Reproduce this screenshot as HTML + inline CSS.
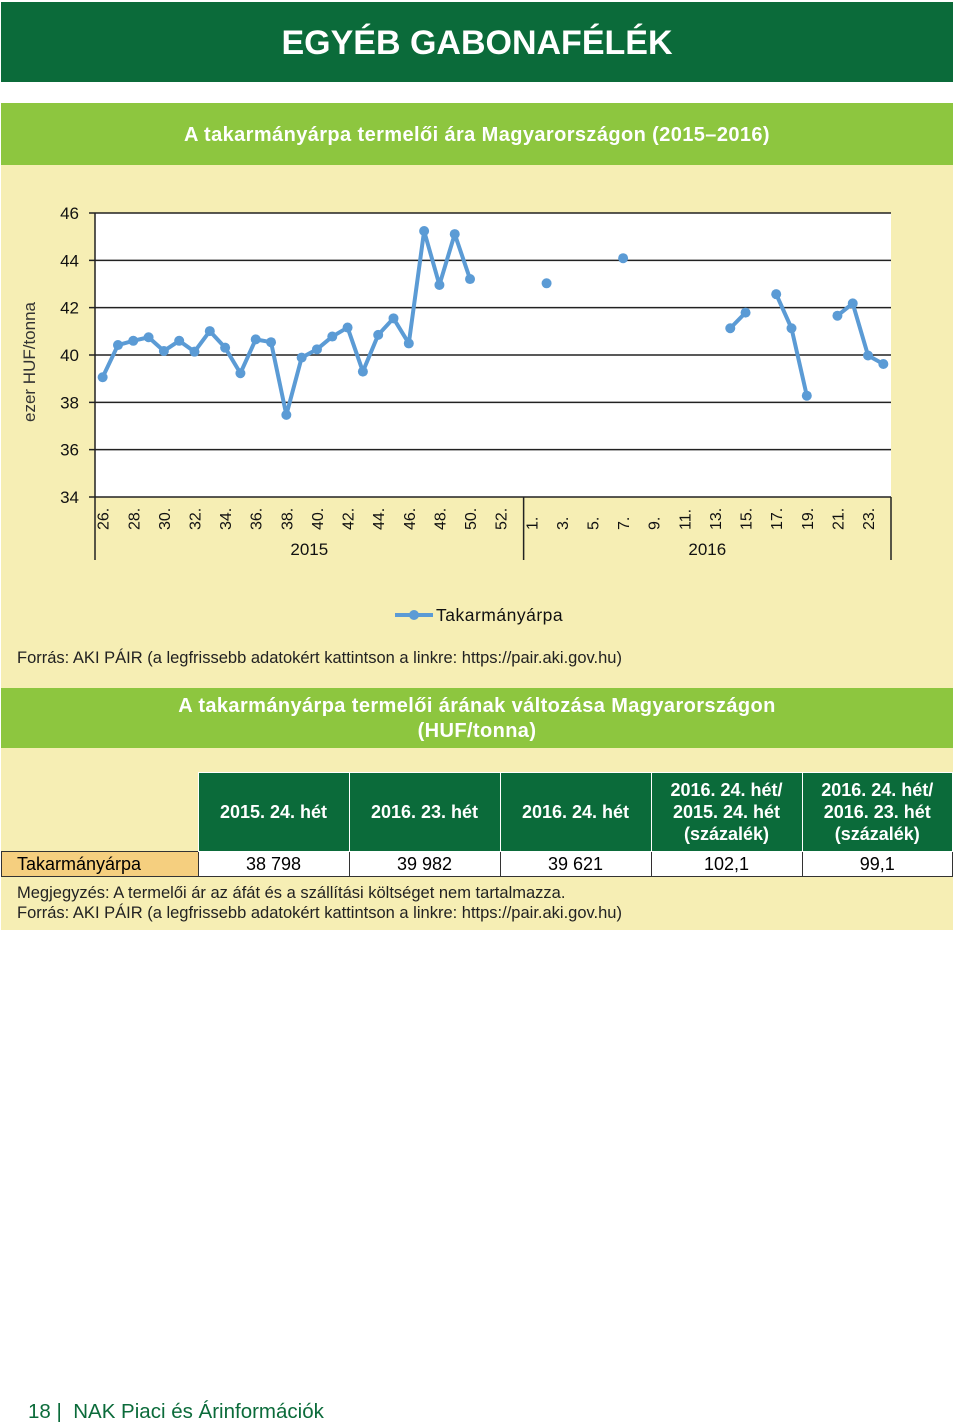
<!DOCTYPE html>
<html><head><meta charset="utf-8">
<style>
body{margin:0;width:960px;height:1426px;background:#fff;font-family:"Liberation Sans",sans-serif;position:relative;overflow:hidden}
.abs{position:absolute}
.hdr{left:1px;top:2px;width:952px;height:80px;background:#0b6b3a;color:#fff;font-size:34px;font-weight:bold;text-align:center;line-height:82px}
.gbar{left:1px;width:952px;background:#8dc63f;color:#fff;font-weight:bold;font-size:20px;letter-spacing:0.4px;text-align:center}
.cream{left:1px;width:952px;background:#f6eeb4}
table{border-collapse:collapse;position:absolute;left:1px;top:772px;width:952px;font-size:18px}
th{background:#0b6b3a;color:#fff;font-weight:bold;border:1px solid #fff;height:78px;padding:0;line-height:22px}
td{border:1px solid #333;background:#fff;text-align:center;height:24px;padding:0}
</style></head><body>
<div class="abs hdr">EGYÉB GABONAFÉLÉK</div>
<div class="abs cream" style="top:165px;height:765px"></div>
<div class="abs gbar" style="top:103px;height:62px;line-height:64px">A takarmányárpa termelői ára Magyarországon (2015–2016)</div>
<svg class="abs" style="left:0;top:165px" width="960" height="480">
<g id="g" transform="translate(0,-165)"></g>
</svg>
<div class="abs" style="left:17px;top:649px;font-size:16.5px;color:#222">Forrás: AKI PÁIR (a legfrissebb adatokért kattintson a linkre: https://pair.aki.gov.hu)</div>
<div class="abs gbar" style="top:688px;height:60px;line-height:25px;padding-top:6px;box-sizing:border-box">A takarmányárpa termelői árának változása Magyarországon<br>(HUF/tonna)</div>
<table>
<tr><th style="background:transparent;border:none;width:196px"></th><th style="width:150px">2015. 24. hét</th><th style="width:150px">2016. 23. hét</th><th style="width:150px">2016. 24. hét</th><th style="width:150px">2016. 24. hét/<br>2015. 24. hét<br>(százalék)</th><th>2016. 24. hét/<br>2016. 23. hét<br>(százalék)</th></tr>
<tr><td style="background:#f5cf7f;text-align:left;padding-left:15px">Takarmányárpa</td><td>38 798</td><td>39 982</td><td>39 621</td><td>102,1</td><td>99,1</td></tr>
</table>
<div class="abs" style="left:17px;top:883px;font-size:16.5px;line-height:20px;color:#222">Megjegyzés: A termelői ár az áfát és a szállítási költséget nem tartalmazza.<br>Forrás: AKI PÁIR (a legfrissebb adatokért kattintson a linkre: https://pair.aki.gov.hu)</div>
<div class="abs" style="left:28px;top:1400px;font-size:20.5px;color:#0b6b3a">18 | &nbsp;NAK Piaci és Árinformációk</div>
<script>
const weeks2015=[26,27,28,29,30,31,32,33,34,35,36,37,38,39,40,41,42,43,44,45,46,47,48,49,50,51,52,53];
const weeks2016=[1,2,3,4,5,6,7,8,9,10,11,12,13,14,15,16,17,18,19,20,21,22,23,24];
const values2015=[39.06,40.42,40.6,40.75,40.17,40.6,40.14,41.01,40.31,39.23,40.66,40.54,37.47,39.89,40.24,40.78,41.16,39.3,40.85,41.55,40.49,45.24,42.96,45.11,43.21,null,null,null];
const values2016=[null,43.03,null,null,null,null,44.09,null,null,null,null,null,null,41.13,41.79,null,42.57,41.13,38.28,null,41.66,42.18,39.98,39.62];
const yTicks=[34,36,38,40,42,44,46];
const NS="http://www.w3.org/2000/svg";
const g=document.getElementById('g');
const L=95,R=891,T=213,B=497,yMin=34,yMax=46;
const cats=weeks2015.length+weeks2016.length,cw=(R-L)/cats;
const x=i=>L+cw*(i+0.5);
const y=v=>B-(v-yMin)/(yMax-yMin)*(B-T);
function el(t,a,p){const e=document.createElementNS(NS,t);for(const k in a)e.setAttribute(k,a[k]);(p||g).appendChild(e);return e;}
const plot=el('rect',{x:L,y:T,width:R-L,height:B-T,fill:'#fff'});


yTicks.forEach(v=>{
 const ln=el('line',{x1:L-6,x2:R,y1:y(v),y2:y(v),stroke:'#222','stroke-width':1.5});
 
 
 const t=el('text',{x:79,y:y(v)+6,'text-anchor':'end','font-size':17,fill:'#111'});
 t.textContent=v;
 
 
});
el('line',{x1:L,x2:L,y1:T,y2:560,stroke:'#222','stroke-width':1.5});
el('line',{x1:x(weeks2015.length)-cw/2,x2:x(weeks2015.length)-cw/2,y1:B,y2:560,stroke:'#222','stroke-width':1.5});
el('line',{x1:R,x2:R,y1:B,y2:560,stroke:'#222','stroke-width':1.5});
const labels=weeks2015.concat(weeks2016);
labels.forEach((w,i)=>{
 if(i%2)return;
 const t=el('text',{transform:`translate(${x(i)+6},530) rotate(-90)`,'font-size':16,fill:'#111'});
 t.textContent=w+'.';
 
 
});
[['2015',(L+x(weeks2015.length)-cw/2)/2],['2016',(x(weeks2015.length)-cw/2+R)/2]].forEach(([s,cx])=>{
 const t=el('text',{x:cx,y:555,'text-anchor':'middle','font-size':17,fill:'#111'});
 t.textContent=s;
 
 
});
const yt=el('text',{transform:'translate(35,362) rotate(-90)','text-anchor':'middle','font-size':17,fill:'#333'});
yt.textContent='ezer HUF/tonna';


const vals=values2015.concat(values2016);
let seg=[];
const flush=()=>{if(seg.length>1){const p=el('polyline',{points:seg.join(' '),fill:'none',stroke:'#5b9bd5','stroke-width':4,'stroke-linejoin':'round'});
 
 }seg=[];};
vals.forEach((v,i)=>{if(v==null){flush();return;}seg.push(x(i)+','+y(v));});flush();
vals.forEach((v,i)=>{if(v==null)return;
 const c=el('circle',{cx:x(i),cy:y(v),r:5,fill:'#5b9bd5'});
 
 
});
el('line',{x1:395,x2:433,y1:615,y2:615,stroke:'#5b9bd5','stroke-width':4});
el('circle',{cx:414,cy:615,r:5,fill:'#5b9bd5'});
const lt=el('text',{x:436,y:621,'font-size':17.5,fill:'#111','letter-spacing':0.5});
lt.textContent='Takarmányárpa';


</script>
</body></html>
